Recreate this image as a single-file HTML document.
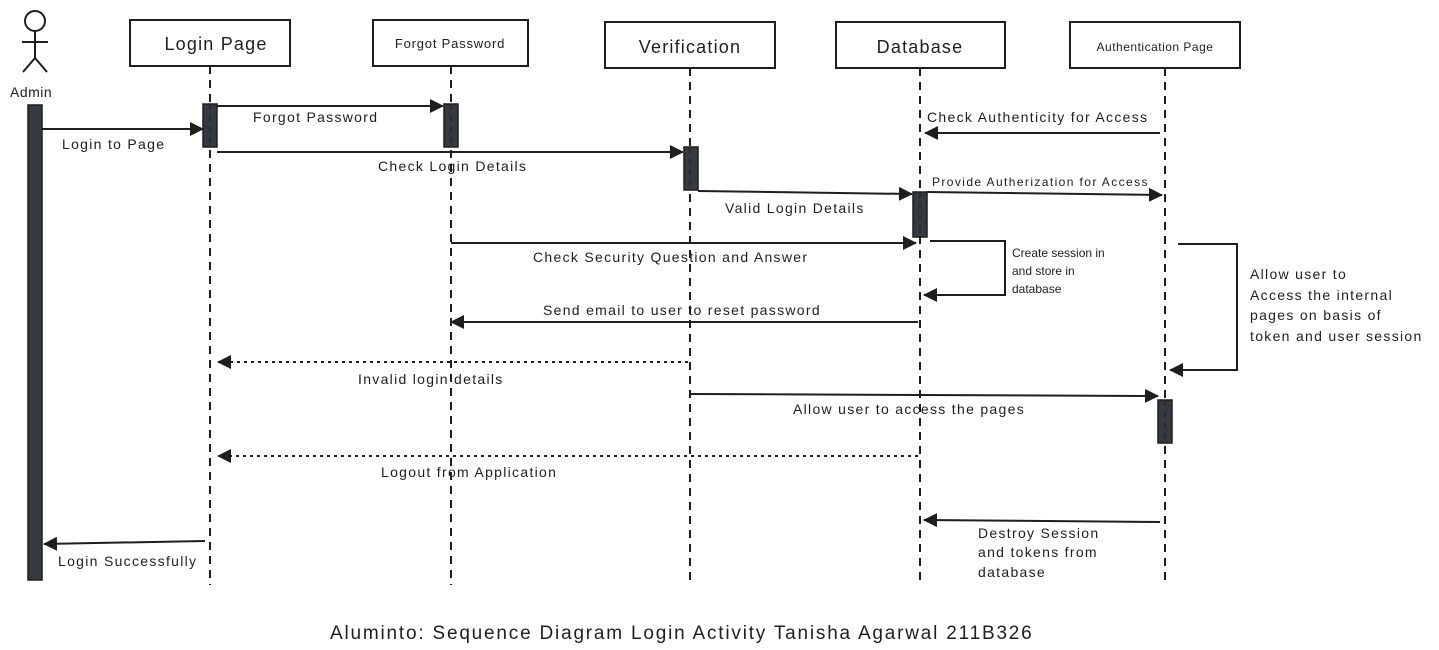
<!DOCTYPE html>
<html><head><meta charset="utf-8"><style>
html,body{margin:0;padding:0;background:#fff;}
svg{display:block;}
text{font-family:"Liberation Sans",sans-serif;fill:#1e1e1e;}
</style></head><body>
<svg width="1439" height="650" viewBox="0 0 1439 650" xmlns="http://www.w3.org/2000/svg">
<defs>
<marker id="b" markerWidth="14" markerHeight="14" refX="13" refY="7" orient="auto" markerUnits="userSpaceOnUse" viewBox="0 0 14 14"><path d="M0,0 L14,7 L0,14 z" fill="#1e1e1e"/></marker>
</defs>
<g stroke="#1e1e1e" fill="none" stroke-width="2">
<circle cx="35" cy="21" r="10"/>
<line x1="35" y1="31" x2="35" y2="58"/>
<line x1="22" y1="42" x2="48" y2="42"/>
<line x1="35" y1="58" x2="23" y2="72"/>
<line x1="35" y1="58" x2="47" y2="72"/>
<rect x="130" y="20" width="160" height="46"/>
<rect x="373" y="20" width="155" height="46"/>
<rect x="605" y="22" width="170" height="46"/>
<rect x="836" y="22" width="169" height="46"/>
<rect x="1070" y="22" width="170" height="46"/>
<g stroke-dasharray="8,6">
<line x1="210" y1="66" x2="210" y2="585"/>
<line x1="451" y1="66" x2="451" y2="585"/>
<line x1="690" y1="68" x2="690" y2="585"/>
<line x1="920" y1="68" x2="920" y2="585"/>
<line x1="1165" y1="68" x2="1165" y2="585"/>
</g>
</g>
<g fill="#343a40" stroke="#1e1e1e" stroke-width="1.5">
<rect x="28" y="105" width="14" height="475"/>
<rect x="203" y="104" width="14" height="43"/>
<rect x="444" y="104" width="14" height="43"/>
<rect x="684" y="147" width="14" height="43"/>
<rect x="913" y="192" width="14" height="45"/>
<rect x="1158" y="400" width="14" height="43"/>
</g>
<g stroke="#1e1e1e" stroke-dasharray="6,5" stroke-width="1.5" opacity="0.6">
<line x1="210" y1="104" x2="210" y2="147"/><line x1="451" y1="104" x2="451" y2="147"/>
<line x1="690" y1="147" x2="690" y2="190"/><line x1="920" y1="192" x2="920" y2="237"/><line x1="1165" y1="400" x2="1165" y2="443"/>
</g>
<g stroke="#1e1e1e" stroke-width="2" fill="none" marker-end="url(#b)">
<line x1="42" y1="129" x2="203" y2="129"/>
<line x1="217" y1="106" x2="443" y2="106"/>
<line x1="217" y1="152" x2="683" y2="152"/>
<line x1="698" y1="191" x2="912" y2="194"/>
<line x1="1160" y1="133" x2="925" y2="133"/>
<line x1="927" y1="192" x2="1162" y2="195"/>
<line x1="451" y1="243" x2="916" y2="243"/>
<polyline points="930,241 1005,241 1005,295 924,295"/>
<polyline points="1178,244 1237,244 1237,370 1170,370"/>
<line x1="918" y1="322" x2="451" y2="322"/>
<line x1="688" y1="362" x2="218" y2="362" stroke-dasharray="3,4"/>
<line x1="690" y1="394" x2="1158" y2="396"/>
<line x1="918" y1="456" x2="218" y2="456" stroke-dasharray="3,4"/>
<line x1="1160" y1="522" x2="924" y2="520"/>
<line x1="205" y1="541" x2="44" y2="544"/>
</g>
<g font-size="18" text-anchor="middle" letter-spacing="1.2">
<text x="216" y="50">Login Page</text>
<text x="450" y="48" font-size="13" letter-spacing="0.8">Forgot Password</text>
<text x="690" y="53">Verification</text>
<text x="920" y="53">Database</text>
<text x="1155" y="51" font-size="12" letter-spacing="0.5">Authentication Page</text>
</g>
<text x="10" y="97" font-size="14" letter-spacing="0.5">Admin</text>
<g font-size="14" letter-spacing="1.3">
<text x="62" y="149">Login to Page</text>
<text x="253" y="122">Forgot Password</text>
<text x="378" y="171">Check Login Details</text>
<text x="725" y="213">Valid Login Details</text>
<text x="927" y="122">Check Authenticity for Access</text>
<text x="932" y="186" font-size="12" letter-spacing="1.4">Provide Autherization for Access</text>
<text x="533" y="262">Check Security Question and Answer</text>
<text x="543" y="315">Send email to user to reset password</text>
<text x="358" y="384">Invalid login details</text>
<text x="793" y="414">Allow user to access the pages</text>
<text x="381" y="477">Logout from Application</text>
<text x="58" y="566">Login Successfully</text>
<text x="978" y="538">Destroy Session</text>
<text x="978" y="557">and tokens from</text>
<text x="978" y="577">database</text>
<text x="1250" y="279">Allow user to</text>
<text x="1250" y="300">Access the internal</text>
<text x="1250" y="320">pages on basis of</text>
<text x="1250" y="341">token and user session</text>
</g>
<g font-size="12">
<text x="1012" y="257">Create session in</text>
<text x="1012" y="275">and store in</text>
<text x="1012" y="293">database</text>
</g>
<text x="330" y="639" font-size="19" letter-spacing="1.8">Aluminto: Sequence Diagram Login Activity Tanisha Agarwal 211B326</text>
</svg>
</body></html>
